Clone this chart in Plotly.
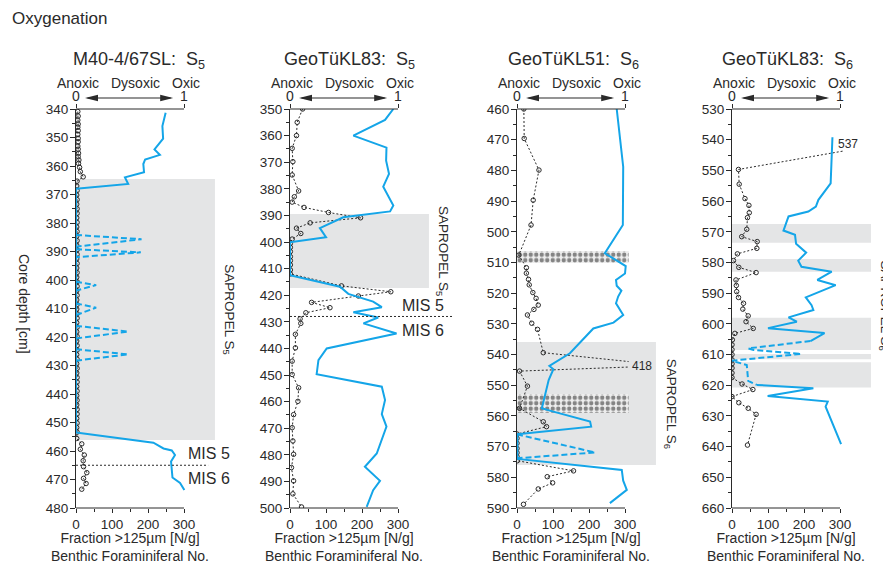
import plotly.graph_objects as go

# ---------------- data ----------------
PANEL_TITLES = ["M40-4/67SL:&nbsp; S<sub>5</sub>", "GeoTüKL83:&nbsp; S<sub>5</sub>",
                "GeoTüKL51:&nbsp; S<sub>6</sub>", "GeoTüKL83:&nbsp; S<sub>6</sub>"]
SAPROPEL_LABELS = ["SAPROPEL S<sub>5</sub>", "SAPROPEL S<sub>5</sub>",
                   "SAPROPEL S<sub>6</sub>", "SAPROPEL S<sub>6</sub>"]
DEPTH_RANGES = [(340, 480), (350, 500), (460, 590), (530, 660)]
X_TICKS = [0, 100, 200, 300]
X_MINOR = [50, 150, 250]
OXY_LABELS = ["Anoxic", "Dysoxic", "Oxic"]
OXY_LABEL_POS = [5, 165, 305]

# Panel 1: M40-4/67SL
P1_BLUE_D = [341.3, 343.9, 346.0, 350.4, 354.2, 356.1, 357.7, 359.3, 362.2, 364.0, 366.3, 368.0,
             453.5, 457.1, 459.1, 459.8, 461.4, 463.7, 469.3, 471.2, 473.7]
P1_BLUE_V = [249, 243, 240, 242, 218, 233, 192, 187, 189, 136, 145, 0,
             0, 215, 243, 266, 275, 264, 268, 289, 301]
P1_SPK_START = [384.2, 389.2, 400.6, 408.2, 416.1, 424.3]
P1_SPK_PEAK_D = [385.7, 390.3, 401.8, 409.7, 418.1, 426.1]
P1_SPK_PEAK_V = [182, 180, 56, 56, 145, 145]
P1_SPK_END = [388.3, 392.0, 403.7, 412.3, 420.5, 428.3]
P1_BF_D = [340.9, 342.5, 343.9, 345.3, 346.4, 347.6, 348.9, 350.3, 351.5, 353.0, 354.1, 355.5,
           356.7, 357.9, 359.1, 360.5, 362.0, 363.8, 365.3,
           367.0, 368.6, 370.2, 371.8, 373.4, 375.0, 376.6, 378.2, 379.8, 381.4, 383.0, 384.6,
           386.2, 387.8, 389.4, 391.0, 392.6, 394.2, 395.8, 397.4, 399.0, 400.6, 402.2, 403.8,
           405.4, 407.0, 408.6, 410.2, 411.8, 413.4, 415.0, 416.6, 418.2, 419.8, 421.4, 423.0,
           424.6, 426.2, 427.8, 429.4, 431.0, 432.6, 434.2, 435.8, 437.4, 439.0, 440.6, 442.2,
           443.8, 445.4, 447.0, 448.6, 450.2, 451.8, 453.4,
           455.6, 457.5, 459.4, 461.4, 463.4, 465.5, 467.6, 469.6, 471.4, 473.4]
P1_BF_V = [5, 6, 5, 6, 5, 6, 5, 6, 6, 5, 6, 7, 6, 8, 7, 10, 12, 20, 3,
           2, 3, 2, 3, 2, 3, 3, 2, 3, 2, 3, 2, 3, 2, 3, 3, 2, 3, 2, 3, 2, 3, 3, 2,
           3, 2, 3, 2, 3, 3, 2, 3, 2, 3, 2, 3, 3, 2, 3, 2, 3, 2, 3, 3, 2, 3, 2, 3,
           2, 3, 3, 2, 3, 2, 3,
           2, 16, 12, 23, 20, 21, 30, 21, 28, 16]

# Panel 2: GeoTüKL83 S5
P2_BLUE_D = [350.0, 354.1, 360.0, 364.5, 369.4, 374.4, 379.2, 384.2, 386.3, 388.5, 390.7, 394.8,
             398.2, 400.1, 412.5, 416.8, 419.5, 422.4, 424.5, 426.4, 428.4, 430.6, 434.4, 440.0,
             444.4, 449.7, 454.4, 459.4, 464.7, 469.4, 479.5, 484.5, 489.8, 493.3, 499.6]
P2_BLUE_V = [287, 264, 176, 268, 267, 275, 259, 278, 287, 278, 148, 83,
             100, 0, 0, 139, 162, 231, 255, 176, 245, 204, 296, 102,
             79, 74, 255, 264, 255, 268, 241, 208, 250, 231, 213]
P2_BF_D = [350.0, 355.0, 360.0, 364.8, 369.8, 374.8, 380.8, 383.0, 385.0, 387.0, 388.9, 390.9,
           392.8, 394.8, 396.8, 398.9, 400.5, 402.0, 403.6, 405.5, 407.0, 408.6, 410.5, 412.0,
           416.5, 418.7, 420.3, 422.7, 424.7, 426.6, 428.9, 430.6, 434.7, 439.8, 444.8, 449.8,
           454.8, 459.9, 464.9, 469.8, 474.8, 479.8, 484.8, 489.8, 494.7, 499.6]
P2_BF_V = [35, 20, 18, 6, 8, 6, 24, 12, 6, 39, 107, 196,
           56, 18, 30, 6, 1, 1, 1, 1, 1, 1, 1, 1,
           143, 280, 190, 60, 111, 44, 28, 30, 15, 15, 6, 6,
           24, 22, 10, 6, 8, 10, 4, 10, 8, 32]

# Panel 3: GeoTüKL51 S6
P3_BLUE_D = [460.0, 478.8, 497.8, 507.0, 511.2, 513.6, 515.7, 517.6, 519.2, 521.1, 523.3, 527.1,
             529.6, 531.5, 539.6, 543.7, 544.8, 548.3, 557.5, 558.6, 561.8, 563.5, 566.0, 574.0,
             577.6, 581.1, 584.1, 588.4]
P3_BLUE_V = [277, 295, 294, 244, 302, 300, 275, 277, 290, 281, 275, 295,
             268, 212, 147, 90, 101, 88, 69, 101, 203, 206, 1, 1,
             291, 295, 305, 258]
P3_SPK_START = [566.0]
P3_SPK_PEAK_D = [571.9]
P3_SPK_PEAK_V = [217]
P3_SPK_END = [573.8]
P3_BF_D = [460.0, 469.6, 479.9, 489.7, 497.8, 507.6, 511.7, 513.5, 515.5, 517.3, 519.8, 521.7,
           523.9, 525.3, 527.1, 529.8, 531.8, 539.4, 543.6, 545.4, 550.3, 557.5, 561.9, 563.5,
           565.9, 567.3, 568.9, 570.6, 572.0, 573.3, 574.6, 577.9, 579.8, 581.8, 583.8, 588.8]
P3_BF_V = [19, 20, 61, 45, 39, 5, 26, 26, 32, 34, 44, 53,
           59, 47, 29, 41, 57, 73, 418, 7, 29, 7, 73, 82,
           0, 0, 0, 0, 0, 0, 1, 157, 84, 99, 59, 18]
P3_OFFSCALE = [(543.6, "418")]

# Panel 4: GeoTüKL83 S6
P4_BLUE_D = [539.2, 554.2, 559.6, 561.8, 563.4, 565.0, 569.6, 571.0, 573.9, 576.8, 579.4, 581.4,
             583.0, 585.7, 587.4, 591.4, 593.9, 595.5, 597.9, 599.3, 601.4, 603.0, 605.6]
P4_BLUE_V = [279, 274, 240, 233, 212, 157, 143, 175, 178, 206, 184, 193,
             277, 237, 288, 205, 221, 226, 157, 180, 100, 257, 218]
P4_DASH_D = [605.6, 608.0, 608.5, 609.8, 612.0, 613.4, 618.6, 619.9]
P4_DASH_V = [218, 45, 60, 192, 0, 41, 45, 69]
P4_BLUE2_D = [619.9, 621.0, 623.5, 625.3, 627.0, 639.2]
P4_BLUE2_V = [69, 226, 99, 266, 260, 303]
P4_BF_D = [539.0, 549.7, 554.5, 559.2, 561.4, 563.8, 565.4, 569.2, 571.6, 573.2, 575.4, 577.2,
           579.4, 581.6, 583.3, 585.7, 587.5, 589.5, 591.4, 593.3, 595.2, 597.4, 599.3, 601.5,
           603.1, 605.2, 606.8, 608.4, 610.0, 611.7, 613.0, 614.4, 616.0, 617.5, 619.6, 621.4,
           623.7, 625.7, 627.5, 629.5, 639.5]
P4_BF_V = [537, 18, 20, 36, 47, 48, 43, 41, 27, 70, 69, 15,
           4, 19, 67, 11, 12, 13, 18, 32, 30, 45, 39, 59,
           8, 1, 0, 0, 0, 0, 0, 0, 0, 0, 28, 58,
           0, 19, 45, 67, 43]
P4_OFFSCALE = [(541.4, "537")]

# Sapropel (grey) intervals [top, bottom] in cm
SAPROPELS = [
    [(364.6, 456.1)],
    [(389.5, 417.3)],
    [(535.9, 576.0)],
    [(567.5, 573.6), (578.9, 583.0), (598.0, 608.5), (609.8, 611.5), (612.5, 620.7)],
]
# dotted (patterned) intervals, panel 3
P3_PATTERN = [(506.3, 510.2), (552.9, 559.0)]
# MIS 5/6 boundary
MIS_DEPTH = {0: 465.0, 1: 428.0}

# ---------------- layout geometry ----------------
OFF = 8                          # page body margin
W, H = 891 - OFF, 563 - OFF      # figure size
AX_PX = [76, 290, 517, 732]      # left edge of each panel (window px)
PXU = 0.36                       # px per x unit
XMAX = 310
Y_TOP, Y_BOT = 109, 508
BLUE = "#14a5e8"
DARK = "#2a2a2a"
GREY = "#e4e5e6"
FONT = "Liberation Sans, Arial, Helvetica, sans-serif"


def px(xp):
    return (xp - OFF) / W


def py(yp):
    return 1 - (yp - OFF) / H


YDOM = [py(Y_BOT), py(Y_TOP)]


def xdom(i):
    return [px(AX_PX[i]), px(AX_PX[i] + XMAX * PXU)]


fig = go.Figure()
shapes = []
annotations = []

blue_solid = [(P1_BLUE_D, P1_BLUE_V), (P2_BLUE_D, P2_BLUE_V), (P3_BLUE_D, P3_BLUE_V),
              (P4_BLUE_D + [None] + P4_BLUE2_D, P4_BLUE_V + [None] + P4_BLUE2_V)]
bf = [(P1_BF_D, P1_BF_V), (P2_BF_D, P2_BF_V), (P3_BF_D, P3_BF_V), (P4_BF_D, P4_BF_V)]


def spikes(starts, peak_d, peak_v, ends):
    ys, xs = [], []
    for s, pd_, pv, e in zip(starts, peak_d, peak_v, ends):
        ys += [s, pd_, e, None]
        xs += [0, pv, 0, None]
    return ys, xs


dashed = [spikes(P1_SPK_START, P1_SPK_PEAK_D, P1_SPK_PEAK_V, P1_SPK_END), None,
          spikes(P3_SPK_START, P3_SPK_PEAK_D, P3_SPK_PEAK_V, P3_SPK_END),
          (P4_DASH_D, P4_DASH_V)]

TITLE_X = [175, 164, 158, 153]
SAP_Y = [410.3, 403.4, 556.0, 594.0]


def ann(**kw):
    base = dict(showarrow=False, xanchor="center", yanchor="middle")
    base.update(kw)
    annotations.append(base)


for i in range(4):
    n = "" if i == 0 else str(i + 1)
    xid, yid = "x" + n, "y" + n
    top_id = "x" + str(i + 5)
    lo, hi = DEPTH_RANGES[i]

    fig.update_layout(**{
        "xaxis" + n: dict(domain=xdom(i), range=[0, XMAX], anchor=yid, showline=False,
                          automargin=False, showgrid=False, zeroline=False,
                          tickvals=X_TICKS, ticks="outside",
                          ticklen=4, tickcolor=DARK, tickfont=dict(size=13.5, color=DARK),
                          minor=dict(tickvals=X_MINOR, ticks="outside", ticklen=2.5,
                                     tickcolor=DARK)),
        "yaxis" + n: dict(domain=YDOM, range=[hi, lo], anchor=xid, showline=True,
                          automargin=False, linecolor=DARK, linewidth=1, showgrid=False,
                          zeroline=False, tick0=0, dtick=10, ticks="outside", ticklen=5,
                          tickcolor=DARK, tickfont=dict(size=13.5, color=DARK),
                          ticklabelstandoff=-1,
                          minor=dict(dtick=5, ticks="outside", ticklen=3, tickcolor=DARK)),
        "xaxis" + str(i + 5): dict(overlaying=xid, anchor=yid, side="top", automargin=False,
                                   range=[0, XMAX / 300], tickvals=[0, 1], ticks="outside",
                                   ticklen=4, tickcolor=DARK, showline=False, showgrid=False,
                                   zeroline=False, tickfont=dict(size=14, color=DARK),
                                   ticklabelstandoff=-3),
    })
    fig.add_trace(go.Scatter(x=[0], y=[lo], xaxis=top_id, yaxis=yid, mode="markers",
                             marker=dict(opacity=0), hoverinfo="skip", showlegend=False))

    # sapropel bands
    for t, b in SAPROPELS[i]:
        shapes.append(dict(type="rect", xref=xid + " domain", yref=yid, x0=0, x1=386 / XMAX,
                           y0=t, y1=b, fillcolor=GREY, line=dict(width=0), layer="below"))

    if i == 2:
        fig.add_trace(go.Bar(
            y=[(t + b) / 2 for t, b in P3_PATTERN], x=[389] * len(P3_PATTERN),
            width=[b - t for t, b in P3_PATTERN], base=0, orientation="h",
            xaxis=xid, yaxis=yid, cliponaxis=False, showlegend=False, hoverinfo="skip",
            marker=dict(color="#eeeeee", line=dict(width=0),
                        pattern=dict(shape=".", fillmode="overlay", fgcolor="#1a1a1a",
                                     size=5.5, solidity=0.5))))

    # benthic foraminifera (dotted with open circles)
    fig.add_trace(go.Scatter(x=bf[i][1], y=bf[i][0], xaxis=xid, yaxis=yid,
                             mode="lines+markers", showlegend=False,
                             line=dict(color=DARK, width=1, dash="2px,2px"),
                             marker=dict(symbol="circle-open", size=4.5, color=DARK,
                                         line=dict(width=1, color=DARK))))
    # fraction >125 µm (blue)
    fig.add_trace(go.Scatter(x=blue_solid[i][1], y=blue_solid[i][0], xaxis=xid, yaxis=yid,
                             mode="lines", showlegend=False, line=dict(color=BLUE, width=2)))
    if dashed[i] is not None:
        fig.add_trace(go.Scatter(x=dashed[i][1], y=dashed[i][0], xaxis=xid, yaxis=yid,
                                 mode="lines", showlegend=False,
                                 line=dict(color=BLUE, width=2, dash="6px,3px")))

    # axis lines 0..300 (bottom) and 0..1 (top)
    for yy in (0, 1):
        shapes.append(dict(type="line", xref=xid, yref=yid + " domain", x0=0, x1=300,
                           y0=yy, y1=yy, line=dict(color=DARK, width=1)))
    # oxygenation arrow
    ay = py(98)
    shapes.append(dict(type="line", xref=xid, yref="paper", x0=32, x1=263, y0=ay, y1=ay,
                       line=dict(color=DARK, width=1.2)))
    shapes.append(dict(type="path", xref=xid, yref="paper", xsizemode="pixel",
                       ysizemode="pixel", xanchor=25, yanchor=ay,
                       path="M0,0 L13,3.3 L13,-3.3 Z", fillcolor=DARK, line=dict(width=0)))
    shapes.append(dict(type="path", xref=xid, yref="paper", xsizemode="pixel",
                       ysizemode="pixel", xanchor=270, yanchor=ay,
                       path="M0,0 L-13,3.3 L-13,-3.3 Z", fillcolor=DARK, line=dict(width=0)))
    for lab, pos in zip(OXY_LABELS, OXY_LABEL_POS):
        ann(text=lab, xref=xid, yref="paper", x=pos, y=py(83),
            font=dict(size=14, color=DARK))
    # titles
    ann(text=PANEL_TITLES[i], xref=xid + " domain", yref="paper",
        x=TITLE_X[i] / XMAX, y=py(60), font=dict(size=18, color=DARK))
    ann(text="Fraction >125µm [N/g]<br>Benthic Foraminiferal No.",
        xref=xid, yref="paper", x=150, y=py(547), font=dict(size=14, color=DARK))
    ann(text=SAPROPEL_LABELS[i], xref=xid + " domain", yref=yid,
        x=425 / XMAX, y=SAP_Y[i], textangle=90, font=dict(size=13.5, color=DARK))
    if i in MIS_DEPTH:
        d = MIS_DEPTH[i]
        end = 367 if i == 0 else 453
        shapes.append(dict(type="line", xref=xid + " domain", yref=yid, x0=0,
                           x1=end / XMAX, y0=d, y1=d,
                           line=dict(color=DARK, width=1, dash="2px,2px")))
        ys = (460.7, 469.5) if i == 0 else (423.7, 433.1)
        for txt, yv in zip(("MIS 5", "MIS 6"), ys):
            ann(text=txt, xref=xid + " domain", yref=yid, x=369 / XMAX, y=yv,
                font=dict(size=16, color=DARK))

for (d, txt), xv in zip(P3_OFFSCALE, [347]):
    ann(text=txt, xref="x3 domain", yref="y3", x=xv / XMAX, y=d,
        font=dict(size=12, color=DARK))
for (d, txt), xv in zip(P4_OFFSCALE, [323]):
    ann(text=txt, xref="x4 domain", yref="y4", x=xv / XMAX, y=d,
        font=dict(size=12, color=DARK))

ann(text="Oxygenation", xref="paper", yref="paper", x=px(10), y=py(18),
    xanchor="left", font=dict(size=17, color=DARK))
ann(text="Core depth [cm]", xref="paper", yref="paper", x=px(24), y=py(304),
    textangle=90, font=dict(size=14, color=DARK))

fig.update_layout(template="none", width=W, height=H, autosize=False,
                  margin=dict(l=0, r=0, t=0, b=0, pad=0),
                  paper_bgcolor="white", plot_bgcolor="white", showlegend=False,
                  font=dict(family=FONT, color=DARK), shapes=shapes,
                  annotations=annotations, bargap=0)

fig.write_html("out.html")
